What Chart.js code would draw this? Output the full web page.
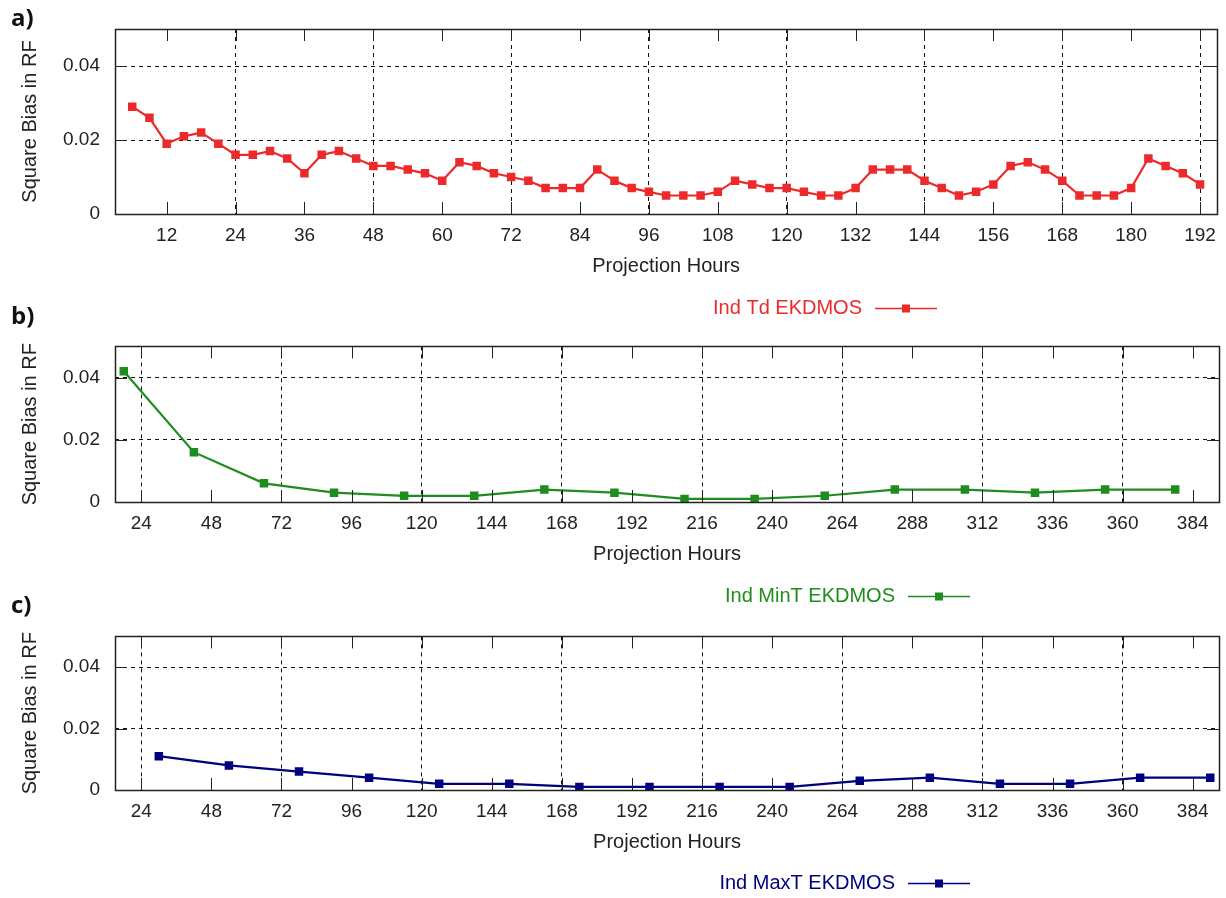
<!DOCTYPE html>
<html>
<head>
<meta charset="utf-8">
<script src="https://cdn.jsdelivr.net/npm/chart.js@4.4.1/dist/chart.umd.min.js"></script>
<style>
  body { margin: 0; background: #fff; width: 1226px; height: 898px; position: relative; overflow: hidden; }
  canvas { position: absolute; left: 0; }
  .tag { position: absolute; left: 11px; z-index: 2; font: bold 24px/24px 'Open Sans', 'DejaVu Sans', sans-serif; color: #111; }
</style>
</head>
<body>
<div class="tag" style="top:5px">a)</div>
<div class="tag" style="top:303px">b)</div>
<div class="tag" style="top:592px">c)</div>
<canvas id="chartTd" width="1226" height="320" style="top:0"></canvas>
<canvas id="chartMinT" width="1226" height="290" style="top:320px"></canvas>
<canvas id="chartMaxT" width="1226" height="288" style="top:610px"></canvas>
<script>
// dew point (Td), every 3 h
const tdHours = [6, 9, 12, 15, 18, 21, 24, 27, 30, 33, 36, 39, 42, 45, 48, 51, 54, 57, 60, 63, 66,
  69, 72, 75, 78, 81, 84, 87, 90, 93, 96, 99, 102, 105, 108, 111, 114, 117, 120, 123, 126,
  129, 132, 135, 138, 141, 144, 147, 150, 153, 156, 159, 162, 165, 168, 171, 174, 177, 180,
  183, 186, 189, 192];
const tdBias = [0.029, 0.026, 0.019, 0.021, 0.022, 0.019, 0.016, 0.016, 0.017, 0.015, 0.011, 0.016,
  0.017, 0.015, 0.013, 0.013, 0.012, 0.011, 0.009, 0.014, 0.013, 0.011, 0.010, 0.009, 0.007,
  0.007, 0.007, 0.012, 0.009, 0.007, 0.006, 0.005, 0.005, 0.005, 0.006, 0.009, 0.008, 0.007,
  0.007, 0.006, 0.005, 0.005, 0.007, 0.012, 0.012, 0.012, 0.009, 0.007, 0.005, 0.006, 0.008,
  0.013, 0.014, 0.012, 0.009, 0.005, 0.005, 0.005, 0.007, 0.015, 0.013, 0.011, 0.008];

// min temperature, daily
const minTHours = [18, 42, 66, 90, 114, 138, 162, 186, 210, 234, 258, 282, 306, 330, 354, 378];
const minTBias = [0.042, 0.016, 0.006, 0.003, 0.002, 0.002, 0.004, 0.003, 0.001, 0.001, 0.002,
  0.004, 0.004, 0.003, 0.004, 0.004];

// max temperature, daily
const maxTHours = [30, 54, 78, 102, 126, 150, 174, 198, 222, 246, 270, 294, 318, 342, 366, 390];
const maxTBias = [0.011, 0.008, 0.006, 0.004, 0.002, 0.002, 0.001, 0.001, 0.001, 0.001, 0.003,
  0.004, 0.002, 0.002, 0.004, 0.004];

const tdTicks = [12, 24, 36, 48, 60, 72, 84, 96, 108, 120, 132, 144, 156, 168, 180, 192];
const tdGrid = [24, 48, 72, 96, 120, 144, 168, 192];
const dayTicks = [24, 48, 72, 96, 120, 144, 168, 192, 216, 240, 264, 288, 312, 336, 360, 384];
const dayGrid = [24, 72, 120, 168, 216, 264, 312, 360];
const yTicks = [0, 0.02, 0.04];
const yGrid = [0.02, 0.04];

Chart.defaults.font.family = "'Liberation Sans', Arial, sans-serif";
Chart.defaults.color = '#222';

// box round the plot with gnuplot-style inward tick marks on all four sides
const framePlugin = {
  id: 'frame',
  afterDraw(chart) {
    const { ctx, chartArea: a, scales: { x, y } } = chart;
    const len = 12;
    ctx.save();
    ctx.strokeStyle = '#222';
    ctx.lineWidth = 1;
    ctx.beginPath();
    x.ticks.forEach(t => {
      const px = Math.round(x.getPixelForValue(t.value)) + 0.5;
      ctx.moveTo(px, a.top); ctx.lineTo(px, a.top + len);
      ctx.moveTo(px, a.bottom); ctx.lineTo(px, a.bottom - len);
    });
    y.ticks.forEach(t => {
      const py = Math.round(y.getPixelForValue(t.value)) + 0.5;
      ctx.moveTo(a.left, py); ctx.lineTo(a.left + len, py);
      ctx.moveTo(a.right, py); ctx.lineTo(a.right - len, py);
    });
    ctx.stroke();
    ctx.lineWidth = 1.5;
    ctx.strokeRect(Math.round(a.left) + 0.5, Math.round(a.top) + 0.5,
      Math.round(a.right - a.left), Math.round(a.bottom - a.top));
    ctx.restore();
  }
};

// key under the plot: label, then a line sample with a marker
const keyPlugin = {
  id: 'keyBelow',
  afterDraw(chart, args, opts) {
    const { ctx } = chart;
    const ds = chart.data.datasets[0];
    ctx.save();
    ctx.font = "20px 'Liberation Sans', Arial, sans-serif";
    ctx.fillStyle = ds.borderColor;
    ctx.textAlign = 'right';
    ctx.textBaseline = 'middle';
    ctx.fillText(ds.label, opts.x - 13, opts.y);
    ctx.strokeStyle = ds.borderColor;
    ctx.lineWidth = 1.5;
    ctx.beginPath();
    ctx.moveTo(opts.x, opts.y + 0.5);
    ctx.lineTo(opts.x + 62, opts.y + 0.5);
    ctx.stroke();
    ctx.fillRect(opts.x + 31 - 4, opts.y - 3.5, 8, 8);
    ctx.restore();
  }
};

function makePanel(id, label, color, hours, values, xTicks, xGrid, xMin, xMax, pad, key) {
  new Chart(document.getElementById(id), {
    type: 'line',
    data: {
      datasets: [{
        label: label,
        data: hours.map((h, i) => ({ x: h, y: values[i] })),
        borderColor: color,
        backgroundColor: color,
        borderWidth: 2.2,
        tension: 0,
        pointStyle: 'rect',
        pointRadius: 6,
        pointBorderWidth: 0,
        pointBackgroundColor: color
      }]
    },
    options: {
      responsive: false,
      animation: false,
      devicePixelRatio: 1,
      layout: { padding: pad },
      plugins: {
        legend: { display: false },
        tooltip: { enabled: false },
        keyBelow: key
      },
      scales: {
        x: {
          type: 'linear',
          min: xMin,
          max: xMax,
          afterBuildTicks: s => { s.ticks = xTicks.map(v => ({ value: v })); },
          afterFit: s => { s.height = 64; },
          border: { display: false, dash: [4, 4] },
          grid: {
            drawTicks: false,
            lineWidth: 1,
            color: c => (c.tick && xGrid.includes(c.tick.value)) ? '#111' : 'rgba(0,0,0,0)'
          },
          ticks: { padding: 10, autoSkip: false, maxRotation: 0, font: { size: 19 }, color: '#222' },
          title: { display: true, text: 'Projection Hours', font: { size: 20 }, color: '#222', padding: { top: 4, bottom: 0 } }
        },
        y: {
          min: 0,
          max: 0.05,
          afterBuildTicks: s => { s.ticks = yTicks.map(v => ({ value: v })); },
          afterFit: s => { s.width = 115; },
          border: { display: false, dash: [4, 4] },
          grid: {
            drawTicks: false,
            lineWidth: 1,
            color: c => (c.tick && yGrid.includes(c.tick.value)) ? '#111' : 'rgba(0,0,0,0)'
          },
          ticks: {
            padding: 15,
            font: { size: 19 },
            color: '#222',
            callback: v => v === 0 ? '0' : v.toFixed(2)
          },
          title: { display: true, text: 'Square Bias in RF', font: { size: 20 }, color: '#222', padding: { top: 18, bottom: 0 } }
        }
      }
    },
    plugins: [framePlugin, keyPlugin]
  });
}

makePanel('chartTd', 'Ind Td EKDMOS', '#ec2a2c', tdHours, tdBias, tdTicks, tdGrid, 3, 195,
  { top: 29, left: 0, right: 7, bottom: 42 }, { x: 875, y: 308 });
makePanel('chartMinT', 'Ind MinT EKDMOS', '#1f8c1f', minTHours, minTBias, dayTicks, dayGrid, 15, 393,
  { top: 23, left: 0, right: 7, bottom: 44 }, { x: 908, y: 276 });
makePanel('chartMaxT', 'Ind MaxT EKDMOS', '#00007f', maxTHours, maxTBias, dayTicks, dayGrid, 15, 393,
  { top: 21, left: 0, right: 7, bottom: 44 }, { x: 908, y: 273 });
</script>
</body>
</html>
